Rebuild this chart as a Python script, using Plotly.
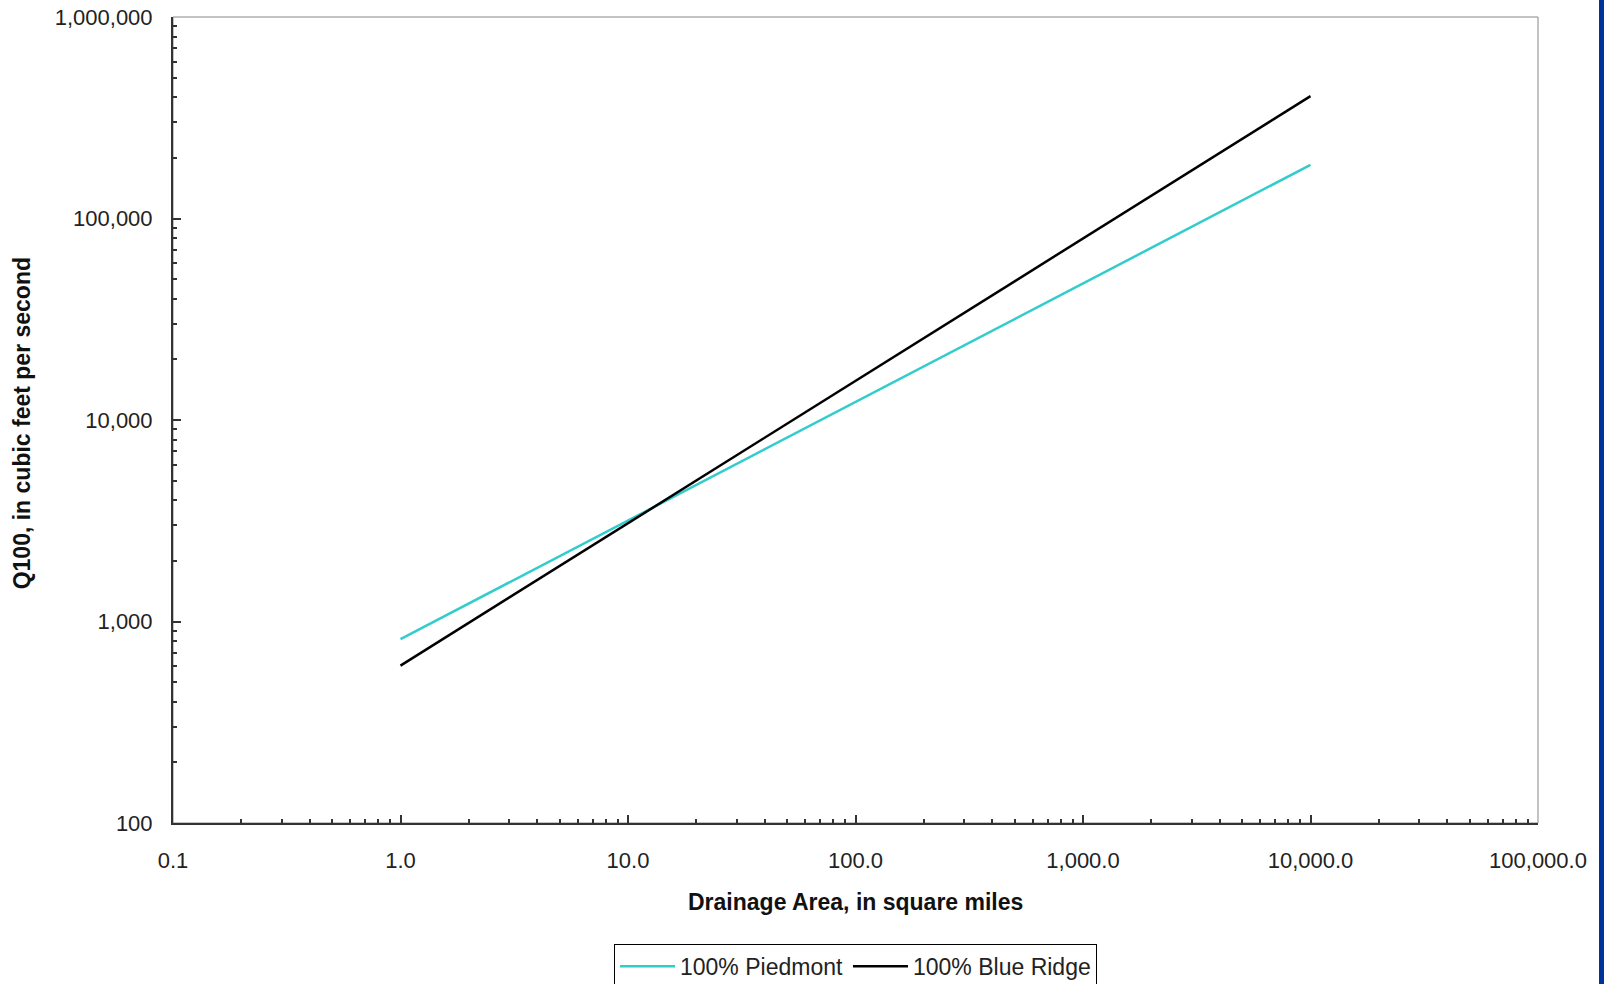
import plotly.graph_objects as go

# Data (log-log straight lines)
area_sq_mi = [1.0, 10000.0]
piedmont_q100 = [818, 184500]
blue_ridge_q100 = [604, 405000]

x_tickvals = [0.1, 1, 10, 100, 1000, 10000, 100000]
y_tickvals = [100, 1000, 10000, 100000, 1000000]
x_minor = [k * 10.0 ** e for e in range(-1, 5) for k in range(2, 10)]
y_minor = [k * 10.0 ** e for e in range(2, 6) for k in range(2, 10)]

FONT = "Liberation Sans, Arial, sans-serif"

fig = go.Figure()
fig.add_trace(go.Scatter(x=area_sq_mi, y=piedmont_q100, mode="lines",
                         name="100% Piedmont", line=dict(color="#33CCCC", width=2.5)))
fig.add_trace(go.Scatter(x=area_sq_mi, y=blue_ridge_q100, mode="lines",
                         name="100% Blue Ridge", line=dict(color="#000000", width=2.5)))

fig.update_layout(
    width=1604, height=984,
    margin=dict(l=173, r=66, t=17, b=161, autoexpand=False),
    paper_bgcolor="white", plot_bgcolor="white",
    font=dict(family=FONT, size=22, color="#222"),
    showlegend=True,
    legend=dict(orientation="h", x=0.5, xanchor="center", y=-0.150, yanchor="top",
                bordercolor="#000", borderwidth=1, font=dict(size=23, color="#222"),
                itemwidth=55, tracegroupgap=0),
    xaxis=dict(
        type="log", range=[-1, 5], tickvals=x_tickvals, tickformat=",.1f",
        showgrid=False, zeroline=False, showline=True, linecolor="#333", linewidth=2,
        ticks="inside", ticklen=8, tickcolor="#333", tickwidth=1.5,
        minor=dict(tickvals=x_minor, ticks="inside", ticklen=4, tickcolor="#333",
                   tickwidth=1.5, showgrid=False),
        ticklabelstandoff=17, automargin=False,
    ),
    yaxis=dict(
        type="log", range=[2, 6], tickvals=y_tickvals, tickformat=",d",
        showgrid=False, zeroline=False, showline=True, linecolor="#333", linewidth=2,
        ticks="inside", ticklen=8, tickcolor="#333", tickwidth=1.5,
        minor=dict(tickvals=y_minor, ticks="inside", ticklen=4, tickcolor="#333",
                   tickwidth=1.5, showgrid=False),
        ticklabelstandoff=14, automargin=False,
    ),
    annotations=[
        dict(text="<b>Drainage Area, in square miles</b>", xref="paper", yref="paper",
             x=0.5, y=-0.098, xanchor="center", yanchor="middle", showarrow=False,
             font=dict(size=23, color="#111")),
        dict(text="<b>Q100, in cubic feet per second</b>", xref="paper", yref="paper",
             x=-0.110, y=0.4957, xanchor="center", yanchor="middle", showarrow=False,
             textangle=-90, font=dict(size=23, color="#111")),
    ],
    shapes=[
        dict(type="rect", xref="paper", yref="paper", x0=0, x1=1, y0=0, y1=1,
             line=dict(color="#888", width=1), layer="below"),
        dict(type="rect", xref="paper", yref="paper", x0=1.0447, x1=1.06, y0=-0.25, y1=1.03,
             line=dict(width=0), fillcolor="#003399", layer="below"),
    ],
)

fig.write_html("out.html", config={"displayModeBar": False},
               post_script="document.body.style.margin='0';document.body.style.overflow='hidden';")
